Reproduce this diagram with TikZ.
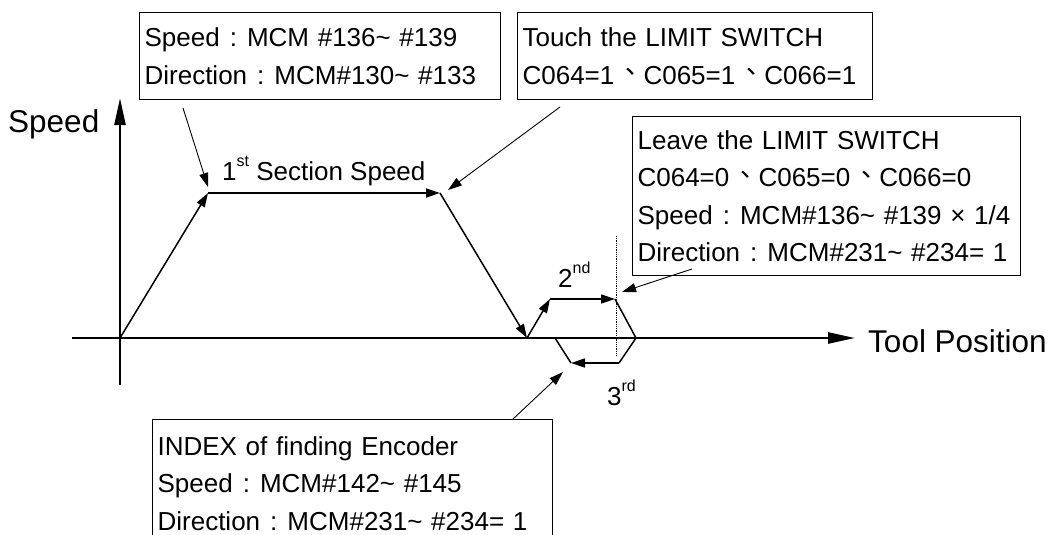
\documentclass[tikz,border=0pt]{standalone}
\usepackage{fontspec}
\setmainfont{Liberation Sans}
\newfontfamily\cjk{Noto Sans CJK TC}
\usetikzlibrary{arrows.meta}
\newcommand{\fc}{\makebox[1.05em]{:}}
\newcommand{\dn}{\hspace{0.12em}\raisebox{0.1em}{\cjk 、}}
\newcommand{\ord}[1]{\raisebox{14pt}{\fontsize{16}{16}\selectfont #1}}
\newcommand{\boxfont}{\fontsize{26}{37.5}\selectfont}

\begin{document}
\begin{tikzpicture}[x=1pt,y=-1pt,
        callout/.style={draw,line width=1.2pt,anchor=north west,align=left,
                        inner xsep=5pt,inner ysep=0pt,font=\boxfont},
        lbl/.style={anchor=base west,inner sep=0pt,font=\boxfont},
        axis/.style={-{Triangle[length=27pt,width=11pt]},line width=2.5pt},
        prof/.style={line width=1.5pt},
        ar/.style={-{Triangle[length=14pt,width=9pt]}},
        pt/.style={-{Triangle[length=14pt,width=9pt]},line width=0.9pt}]
      \useasboundingbox (0,0) rectangle (1052,535);
      % axes
      \coordinate (xs) at (72,338);  \coordinate (xe) at (855,338);
      \coordinate (ys) at (120,385); \coordinate (ye) at (120,98);
      \draw[axis] (xs)--(xe);
      \draw[axis] (ys)--(ye);
      \node[anchor=base west,inner sep=0pt,font=\fontsize{31.5}{31.5}\selectfont] (yl) at (8,132) {Speed};
      \node[anchor=base west,inner sep=0pt,font=\fontsize{31.5}{31.5}\selectfont] (xl) at (868,352) {Tool Position};
      % speed profile
      \coordinate (o) at (120,338);
      \coordinate (p1) at (208,193); \coordinate (p2) at (440,193); \coordinate (p3) at (527,338);
      \coordinate (q1) at (550,299); \coordinate (q2) at (615,299); \coordinate (q3) at (636,338);
      \coordinate (r1) at (619,363); \coordinate (r2) at (571,363); \coordinate (r3) at (555,338);
      \draw[prof,ar] (o)--(p1);  \draw[prof,ar] (p1)--(p2); \draw[prof,ar] (p2)--(p3);
      \draw[prof,ar] (p3)--(q1); \draw[prof,ar] (q1)--(q2); \draw[prof] (q2)--(q3)--(r1);
      \draw[prof,ar] (r1)--(r2); \draw[prof] (r2)--(r3);
      \draw[densely dotted,line width=0.8pt] (616,236)--(616,355);
      \node[lbl] (s1) at (222,180) {1\ord{st} Section Speed};
      \node[lbl] (s2) at (558,287) {2\ord{nd}};
      \node[lbl] (s3) at (607,405) {3\ord{rd}};
      % boxes
      \node[callout,text width=351pt,minimum height=87pt] (spdbox) at (139,12)
        {Speed\fc MCM \#136\textasciitilde\ \#139\\Direction\fc MCM\#130\textasciitilde\ \#133};
      \node[callout,text width=345pt,minimum height=87pt] (touch) at (517,12)
        {Touch the LIMIT SWITCH\\C064=1\dn C065=1\dn C066=1};
      \node[callout,text width=378pt,minimum height=159pt] (leave) at (632,116)
        {Leave the LIMIT SWITCH\\C064=0\dn C065=0\dn C066=0\\
         Speed\fc MCM\#136\textasciitilde\ \#139 × 1/4\\Direction\fc MCM\#231\textasciitilde\ \#234= 1};
      \node[callout,text width=390pt,minimum height=128pt] (index) at (152,419)
        {INDEX of finding Encoder\\Speed\fc MCM\#142\textasciitilde\ \#145\\Direction\fc MCM\#231\textasciitilde\ \#234= 1};
      % pointers
      \coordinate (a1) at (183,108); \coordinate (b1) at (208,187);
      \coordinate (a2) at (560,107); \coordinate (b2) at (448,190);
      \coordinate (a3) at (692,269); \coordinate (b3) at (622,292);
      \coordinate (a4) at (513,419); \coordinate (b4) at (563,372);
      \draw[pt] (a1)--(b1); \draw[pt] (a2)--(b2);
      \draw[pt] (a3)--(b3); \draw[pt] (a4)--(b4);
    \end{tikzpicture}
\end{document}
